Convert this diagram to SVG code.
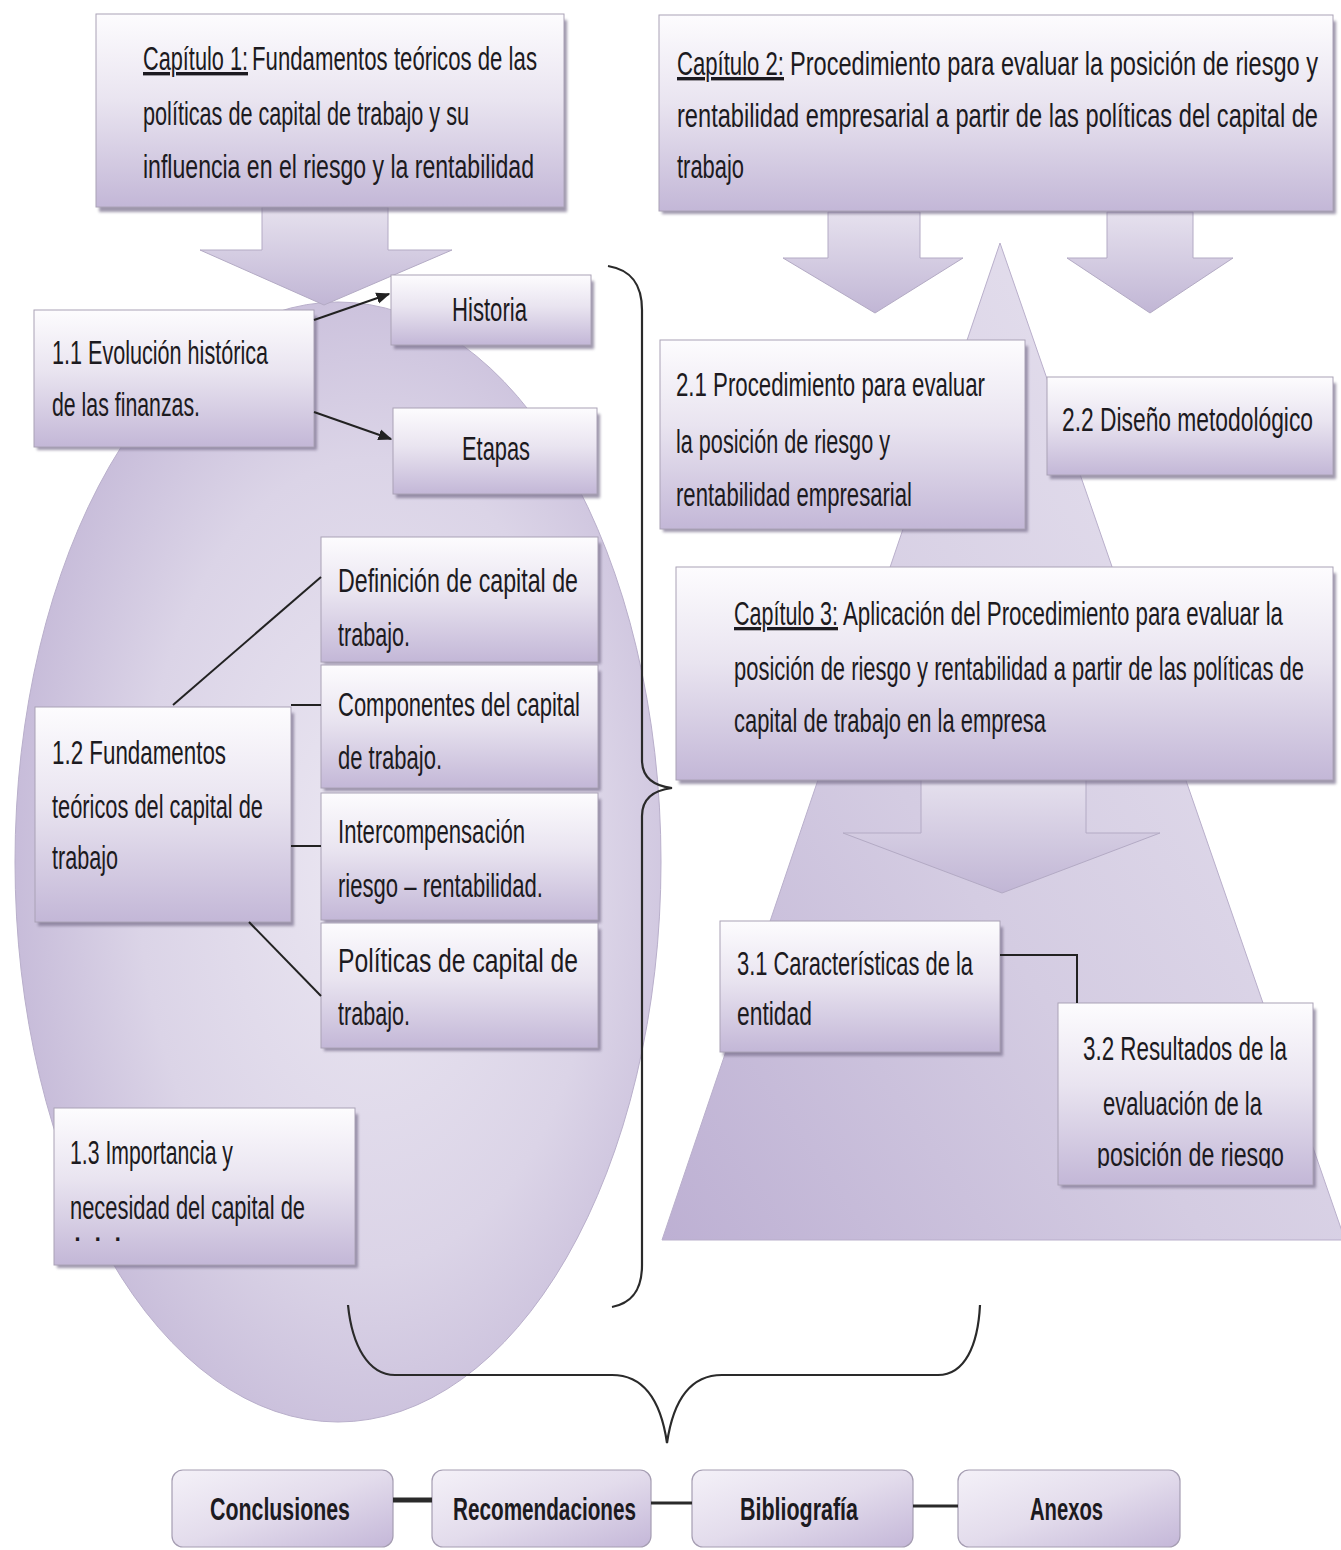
<svg xmlns="http://www.w3.org/2000/svg" width="1341" height="1550" viewBox="0 0 1341 1550">
<style>
.t{font-family:"Liberation Sans Narrow","Liberation Sans",Arial,sans-serif;font-size:33px;fill:#1c1a20}
.c{font-size:34px}
.u{text-decoration:underline}
.tb{font-family:"Liberation Sans Narrow","Liberation Sans",Arial,sans-serif;font-size:31px;font-weight:bold;fill:#1c1a20}
.box{fill:url(#boxG);stroke:#aaa2b6;stroke-width:1}
.rbox{fill:url(#rboxG);stroke:#a59db2;stroke-width:1.2}
.sh{fill:#7e7590;opacity:.75;filter:url(#blur)}
.arr{fill:url(#arrG);stroke:#b3aac4;stroke-width:1}
.ln{fill:none;stroke:#222;stroke-width:2}
.br{fill:none;stroke:#2a2a2a;stroke-width:2.2}
</style>
<defs>
<linearGradient id="boxG" x1="0" y1="0" x2="0" y2="1">
<stop offset="0" stop-color="#fdfcfe"/><stop offset="0.45" stop-color="#e9e4f0"/><stop offset="1" stop-color="#c3b7d7"/>
</linearGradient>
<linearGradient id="rboxG" x1="0" y1="0" x2="1" y2="1">
<stop offset="0" stop-color="#f4f1f8"/><stop offset="0.5" stop-color="#e3dcec"/><stop offset="1" stop-color="#c4b7d8"/>
</linearGradient>
<linearGradient id="arrG" x1="0" y1="0" x2="0" y2="1">
<stop offset="0" stop-color="#e6e1ee"/><stop offset="1" stop-color="#c1b6d5"/>
</linearGradient>
<radialGradient id="ellG" cx="0.55" cy="0.5" r="0.6">
<stop offset="0" stop-color="#ebe7f2"/><stop offset="0.6" stop-color="#dbd4e7"/><stop offset="1" stop-color="#c2b6d6"/>
</radialGradient>
<linearGradient id="triG" x1="1" y1="0" x2="0" y2="1">
<stop offset="0" stop-color="#ebe7f2"/><stop offset="0.6" stop-color="#d4cce2"/><stop offset="1" stop-color="#bdb0d3"/>
</linearGradient>
<filter id="blur" x="-5%" y="-5%" width="110%" height="115%"><feGaussianBlur stdDeviation="1.5"/></filter>
<marker id="ah" viewBox="0 0 10 10" refX="9" refY="5" markerWidth="7" markerHeight="7" orient="auto-start-reverse">
<path d="M0,1 L10,5 L0,9 z" fill="#222"/>
</marker>
<clipPath id="clip32"><rect x="1058" y="1003" width="256" height="165"/></clipPath>
</defs>

<g id="background">
<ellipse id="ellipse" cx="338" cy="862" rx="323" ry="560" fill="url(#ellG)" stroke="#b9afcb" stroke-width="1"/>
<polygon id="triangle" points="1000,243 662,1240 1345,1240" fill="url(#triG)" stroke="#b9afcb" stroke-width="1"/>
</g>

<g id="arrows">
<polygon class="arr" points="262,207 388,207 388,250 452,250 324,305 200,250 262,250"/>
<polygon class="arr" points="828,212 920,212 920,258 963,258 875,313 783,258 828,258"/>
<polygon class="arr" points="1107,212 1193,212 1193,258 1233,258 1150,313 1067,258 1107,258"/>
<polygon class="arr" points="921,778 1086,778 1086,833 1160,833 1002,893 843,833 921,833"/>
</g>

<g id="cap1">
<rect class="sh" x="99" y="20" width="468" height="192"/>
<rect class="box" x="96" y="14" width="468" height="193"/>
<text class="t c u" x="143" y="70" textLength="105" lengthAdjust="spacingAndGlyphs">Capítulo 1:</text>
<text class="t c" x="252" y="70" textLength="285" lengthAdjust="spacingAndGlyphs">Fundamentos teóricos de las</text>
<text class="t c" x="143" y="125" textLength="326" lengthAdjust="spacingAndGlyphs">políticas de capital  de trabajo y su</text>
<text class="t c" x="143" y="178" textLength="391" lengthAdjust="spacingAndGlyphs">influencia en el riesgo y la rentabilidad</text>
</g>

<g id="cap2">
<rect class="sh" x="662" y="21" width="674" height="193"/>
<rect class="box" x="659" y="15" width="674" height="196"/>
<text class="t c u" x="677" y="75" textLength="107" lengthAdjust="spacingAndGlyphs">Capítulo 2:</text>
<text class="t c" x="790" y="75" textLength="528" lengthAdjust="spacingAndGlyphs">Procedimiento para evaluar  la posición de riesgo y</text>
<text class="t c" x="677" y="127" textLength="641" lengthAdjust="spacingAndGlyphs">rentabilidad  empresarial  a  partir  de  las  políticas  del capital de</text>
<text class="t c" x="677" y="178" textLength="67" lengthAdjust="spacingAndGlyphs">trabajo</text>
</g>

<g id="n11">
<rect class="sh" x="37" y="316" width="280" height="134"/>
<rect class="box" x="34" y="310" width="280" height="137"/>
<text class="t" x="52" y="364" textLength="216" lengthAdjust="spacingAndGlyphs">1.1 Evolución histórica</text>
<text class="t" x="52" y="416" textLength="148" lengthAdjust="spacingAndGlyphs">de las finanzas.</text>
</g>

<g id="historia">
<rect class="sh" x="394" y="281" width="200" height="68"/>
<rect class="box" x="391" y="275" width="200" height="70"/>
<text class="t" x="452" y="321" textLength="75" lengthAdjust="spacingAndGlyphs">Historia</text>
</g>

<g id="etapas">
<rect class="sh" x="396" y="414" width="204" height="84"/>
<rect class="box" x="393" y="408" width="204" height="86"/>
<text class="t" x="462" y="460" textLength="68" lengthAdjust="spacingAndGlyphs">Etapas</text>
</g>

<g id="n12">
<rect class="sh" x="38" y="713" width="256" height="213"/>
<rect class="box" x="35" y="707" width="256" height="215"/>
<text class="t" x="52" y="764" textLength="174" lengthAdjust="spacingAndGlyphs">1.2 Fundamentos</text>
<text class="t" x="52" y="818" textLength="211" lengthAdjust="spacingAndGlyphs">teóricos del capital de</text>
<text class="t" x="52" y="869" textLength="66" lengthAdjust="spacingAndGlyphs">trabajo</text>
</g>

<g id="definicion">
<rect class="sh" x="324" y="543" width="277" height="121"/>
<rect class="box" x="321" y="537" width="277" height="125"/>
<text class="t" x="338" y="592" textLength="240" lengthAdjust="spacingAndGlyphs">Definición  de  capital  de</text>
<text class="t" x="338" y="646" textLength="72" lengthAdjust="spacingAndGlyphs">trabajo.</text>
</g>

<g id="componentes">
<rect class="sh" x="324" y="671" width="277" height="120"/>
<rect class="box" x="321" y="665" width="277" height="123"/>
<text class="t" x="338" y="716" textLength="242" lengthAdjust="spacingAndGlyphs">Componentes del capital</text>
<text class="t" x="338" y="769" textLength="104" lengthAdjust="spacingAndGlyphs">de trabajo.</text>
</g>

<g id="intercompensacion">
<rect class="sh" x="324" y="799" width="277" height="124"/>
<rect class="box" x="321" y="793" width="277" height="127"/>
<text class="t" x="338" y="843" textLength="187" lengthAdjust="spacingAndGlyphs">Intercompensación</text>
<text class="t" x="338" y="897" textLength="205" lengthAdjust="spacingAndGlyphs">riesgo – rentabilidad.</text>
</g>

<g id="politicas">
<rect class="sh" x="324" y="929" width="277" height="122"/>
<rect class="box" x="321" y="923" width="277" height="125"/>
<text class="t" x="338" y="972" textLength="240" lengthAdjust="spacingAndGlyphs">Políticas  de  capital  de</text>
<text class="t" x="338" y="1025" textLength="72" lengthAdjust="spacingAndGlyphs">trabajo.</text>
</g>

<g id="n13">
<rect class="sh" x="57" y="1114" width="301" height="154"/>
<rect class="box" x="54" y="1108" width="301" height="157"/>
<text class="t" x="70" y="1164" textLength="163" lengthAdjust="spacingAndGlyphs">1.3 Importancia y</text>
<text class="t" x="70" y="1219" textLength="235" lengthAdjust="spacingAndGlyphs">necesidad del capital de</text>
<text class="t" x="72" y="1248" font-size="14" fill="#666">·    ·    ·</text>
</g>

<g id="n21">
<rect class="sh" x="663" y="346" width="365" height="186"/>
<rect class="box" x="660" y="340" width="365" height="189"/>
<text class="t" x="676" y="396" textLength="309" lengthAdjust="spacingAndGlyphs">2.1  Procedimiento para evaluar</text>
<text class="t" x="676" y="453" textLength="214" lengthAdjust="spacingAndGlyphs">la posición  de riesgo y</text>
<text class="t" x="676" y="506" textLength="236" lengthAdjust="spacingAndGlyphs">rentabilidad empresarial</text>
</g>

<g id="n22">
<rect class="sh" x="1050" y="383" width="286" height="96"/>
<rect class="box" x="1047" y="377" width="286" height="98"/>
<text class="t" x="1062" y="431" textLength="251" lengthAdjust="spacingAndGlyphs">2.2  Diseño metodológico</text>
</g>

<g id="cap3">
<rect class="sh" x="679" y="573" width="657" height="211"/>
<rect class="box" x="676" y="567" width="657" height="213"/>
<text class="t u" x="734" y="625" textLength="104" lengthAdjust="spacingAndGlyphs">Capítulo 3:</text>
<text class="t" x="843" y="625" textLength="440" lengthAdjust="spacingAndGlyphs">Aplicación  del Procedimiento para evaluar  la</text>
<text class="t" x="734" y="680" textLength="570" lengthAdjust="spacingAndGlyphs">posición de riesgo y rentabilidad a partir de las políticas de</text>
<text class="t" x="734" y="732" textLength="312" lengthAdjust="spacingAndGlyphs">capital de trabajo en la empresa</text>
</g>

<g id="n31">
<rect class="sh" x="723" y="927" width="280" height="129"/>
<rect class="box" x="720" y="921" width="280" height="131"/>
<text class="t" x="737" y="975" textLength="236" lengthAdjust="spacingAndGlyphs">3.1 Características de la</text>
<text class="t" x="737" y="1025" textLength="75" lengthAdjust="spacingAndGlyphs">entidad</text>
</g>

<g id="n32">
<rect class="sh" x="1061" y="1009" width="255" height="179"/>
<rect class="box" x="1058" y="1003" width="255" height="182"/>
<text class="t" x="1083" y="1060" textLength="204" lengthAdjust="spacingAndGlyphs">3.2 Resultados de la</text>
<text class="t" x="1103" y="1115" textLength="159" lengthAdjust="spacingAndGlyphs">evaluación de la</text>
<text class="t" x="1097" y="1166" textLength="187" lengthAdjust="spacingAndGlyphs" clip-path="url(#clip32)">posición de riesgo</text>
</g>

<g id="conclusiones">
<rect class="rbox" x="172" y="1470" width="221" height="77" rx="11"/>
<text class="tb" x="210" y="1520" textLength="140" lengthAdjust="spacingAndGlyphs">Conclusiones</text>
</g>
<g id="recomendaciones">
<rect class="rbox" x="432" y="1470" width="219" height="77" rx="11"/>
<text class="tb" x="453" y="1520" textLength="183" lengthAdjust="spacingAndGlyphs">Recomendaciones</text>
</g>
<g id="bibliografia">
<rect class="rbox" x="692" y="1470" width="221" height="77" rx="11"/>
<text class="tb" x="740" y="1520" textLength="118" lengthAdjust="spacingAndGlyphs">Bibliografía</text>
</g>
<g id="anexos">
<rect class="rbox" x="958" y="1470" width="222" height="77" rx="11"/>
<text class="tb" x="1030" y="1520" textLength="73" lengthAdjust="spacingAndGlyphs">Anexos</text>
</g>

<g id="connectors">
<line class="ln" x1="314" y1="320" x2="389" y2="294" marker-end="url(#ah)"/>
<line class="ln" x1="314" y1="412" x2="391" y2="439" marker-end="url(#ah)"/>
<line class="ln" x1="173" y1="705" x2="321" y2="577"/>
<line class="ln" x1="291" y1="705" x2="321" y2="705"/>
<line class="ln" x1="291" y1="846" x2="321" y2="846"/>
<line class="ln" x1="249" y1="922" x2="321" y2="996"/>
<polyline class="ln" points="1000,955 1077,955 1077,1003"/>
<line x1="393" y1="1500" x2="432" y2="1500" stroke="#2a2a2a" stroke-width="5"/>
<line x1="651" y1="1503" x2="692" y2="1503" stroke="#2a2a2a" stroke-width="3"/>
<line x1="913" y1="1506" x2="958" y2="1506" stroke="#2a2a2a" stroke-width="3"/>
<path class="br" d="M608,266 C632,270 642,285 642,310 L642,760 C642,778 655,786 672,788 C655,790 642,798 642,816 L642,1265 C642,1290 632,1303 612,1307"/>
<path class="br" d="M348,1305 C352,1345 368,1375 395,1375 L612,1375 C640,1375 660,1395 667,1443 C674,1395 694,1375 722,1375 L938,1375 C965,1375 978,1345 980,1305"/>
</g>
</svg>
